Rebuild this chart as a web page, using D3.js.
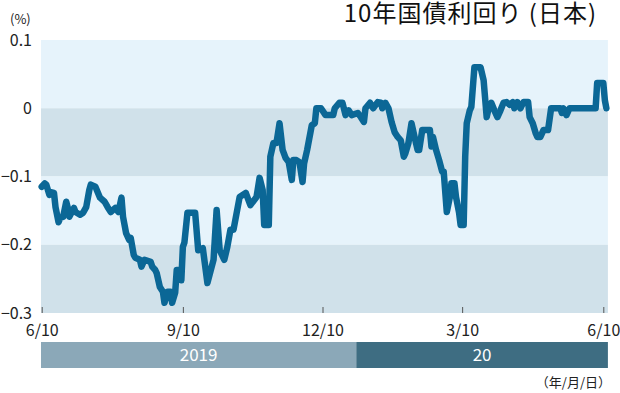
<!DOCTYPE html>
<html>
<head>
<meta charset="utf-8">
<script src="https://cdn.jsdelivr.net/npm/d3@7"></script>
<style>
  body { margin: 0; background: #fff; }
  svg { display: block; font-family: "Noto Sans CJK JP", "Noto Sans", sans-serif; }
</style>
</head>
<body>
<div id="chart"></div>
<script>
// 10-year JGB yield, 2019/6/10 - 2020/6/10

const dates = [
  "2019-06-10","2019-06-12","2019-06-13","2019-06-15","2019-06-16","2019-06-18","2019-06-19","2019-06-21",
  "2019-06-22","2019-06-24","2019-06-26","2019-06-27","2019-06-28","2019-07-01","2019-07-02","2019-07-05",
  "2019-07-07","2019-07-09","2019-07-11","2019-07-12","2019-07-15","2019-07-18","2019-07-21","2019-07-23",
  "2019-07-25","2019-07-28","2019-07-30","2019-08-01","2019-08-02","2019-08-04","2019-08-06","2019-08-07",
  "2019-08-09","2019-08-10","2019-08-13","2019-08-14","2019-08-16","2019-08-20","2019-08-21","2019-08-23",
  "2019-08-24","2019-08-26","2019-08-28","2019-08-29","2019-08-31","2019-09-02","2019-09-03","2019-09-05",
  "2019-09-06","2019-09-08","2019-09-09","2019-09-10","2019-09-11","2019-09-13","2019-09-18","2019-09-20",
  "2019-09-23","2019-09-26","2019-09-30","2019-10-02","2019-10-04","2019-10-07","2019-10-09","2019-10-11",
  "2019-10-13","2019-10-17","2019-10-21","2019-10-24","2019-10-28","2019-10-30","2019-11-01","2019-11-02",
  "2019-11-05","2019-11-06","2019-11-08","2019-11-10","2019-11-12","2019-11-14","2019-11-16","2019-11-18",
  "2019-11-20","2019-11-21","2019-11-23","2019-11-25","2019-11-27","2019-11-28","2019-11-30","2019-12-03",
  "2019-12-05","2019-12-06","2019-12-09","2019-12-12","2019-12-13","2019-12-17","2019-12-18","2019-12-21",
  "2019-12-23","2019-12-25","2019-12-27","2019-12-29","2020-01-02","2020-01-04","2020-01-06","2020-01-07",
  "2020-01-10","2020-01-12","2020-01-15","2020-01-17","2020-01-18","2020-01-20","2020-01-22","2020-01-24",
  "2020-01-26","2020-01-28","2020-01-30","2020-02-01","2020-02-02","2020-02-04","2020-02-06","2020-02-08",
  "2020-02-10","2020-02-11","2020-02-13","2020-02-18","2020-02-19","2020-02-20","2020-02-22","2020-02-24",
  "2020-02-26","2020-02-27","2020-02-29","2020-03-02","2020-03-03","2020-03-05","2020-03-06","2020-03-08",
  "2020-03-09","2020-03-11","2020-03-12","2020-03-13","2020-03-15","2020-03-16","2020-03-18","2020-03-22",
  "2020-03-24","2020-03-26","2020-03-27","2020-03-29","2020-03-31","2020-04-02","2020-04-04","2020-04-06",
  "2020-04-08","2020-04-10","2020-04-12","2020-04-13","2020-04-15","2020-04-17","2020-04-19","2020-04-22",
  "2020-04-23","2020-04-25","2020-04-27","2020-04-28","2020-04-30","2020-05-02","2020-05-05","2020-05-07",
  "2020-05-13","2020-05-14","2020-05-15","2020-05-17","2020-05-19","2020-06-05","2020-06-06","2020-06-10",
  "2020-06-11","2020-06-12"
];

const yields = [
  -0.115,-0.110,-0.112,-0.127,-0.123,-0.124,-0.145,-0.167,
  -0.161,-0.159,-0.137,-0.146,-0.159,-0.146,-0.152,-0.156,
  -0.153,-0.145,-0.120,-0.112,-0.115,-0.131,-0.137,-0.145,
  -0.152,-0.146,-0.152,-0.131,-0.159,-0.183,-0.193,-0.190,
  -0.215,-0.219,-0.222,-0.232,-0.222,-0.225,-0.232,-0.237,
  -0.242,-0.262,-0.269,-0.285,-0.269,-0.269,-0.285,-0.270,
  -0.237,-0.237,-0.252,-0.203,-0.197,-0.153,-0.153,-0.208,
  -0.205,-0.256,-0.222,-0.149,-0.208,-0.222,-0.203,-0.178,
  -0.178,-0.130,-0.124,-0.142,-0.130,-0.102,-0.120,-0.171,
  -0.171,-0.071,-0.051,-0.051,-0.022,-0.061,-0.073,-0.079,
  -0.105,-0.076,-0.076,-0.079,-0.108,-0.081,-0.061,-0.025,
  -0.022,0.000,0.000,-0.010,-0.010,-0.010,0.000,0.008,
  0.008,-0.010,-0.003,-0.010,-0.007,-0.013,-0.020,0.000,
  0.008,0.000,0.009,0.008,0.000,0.008,0.000,-0.020,
  -0.035,-0.042,-0.047,-0.071,-0.066,-0.051,-0.022,-0.042,
  -0.061,-0.061,-0.032,-0.032,-0.056,-0.042,-0.061,-0.076,
  -0.093,-0.093,-0.152,-0.130,-0.110,-0.110,-0.130,-0.153,
  -0.171,-0.171,-0.071,-0.022,-0.003,0.002,0.060,0.060,
  0.041,-0.013,-0.003,0.008,-0.003,-0.013,-0.003,0.008,
  0.009,0.005,0.009,0.000,0.009,0.000,0.009,0.009,
  -0.013,-0.022,-0.037,-0.042,-0.042,-0.032,-0.032,0.000,
  0.000,-0.007,0.000,-0.010,0.000,0.000,0.037,0.037,
  0.012,0.000
];

const yTicks = [0.1, 0, -0.1, -0.2, -0.3];
const xTicks = ["2019-06-10", "2019-09-10", "2019-12-10", "2020-03-10", "2020-06-10"];
const xTickLabels = ["6/10", "9/10", "12/10", "3/10", "6/10"];
const years = [
  { label: "2019", from: "2019-06-10", to: "2020-01-01" },
  { label: "20", from: "2020-01-01", to: "2020-06-13" }
];

const parse = d3.timeParse("%Y-%m-%d");
const data = dates.map((d, i) => ({ date: parse(d), value: yields[i] }));

const width = 620, height = 393;
const svg = d3.select("#chart").append("svg")
  .attr("width", width)
  .attr("height", height);

// Scales
const x = d3.scaleTime()
  .domain([parse("2019-06-10"), parse("2020-06-10")])
  .range([41.7, 603.3]);
const y = d3.scaleLinear().domain([-0.3, 0.1]).range([313, 40]);

const plotLeft = 41, plotRight = x(parse("2020-06-13"));

// Background bands
const bands = d3.pairs(yTicks);
svg.append("g").selectAll("rect")
  .data(bands)
  .join("rect")
  .attr("x", plotLeft)
  .attr("width", plotRight - plotLeft)
  .attr("y", d => y(d[0]))
  .attr("height", d => y(d[1]) - y(d[0]))
  .attr("fill", (d, i) => i % 2 === 0 ? "#e6f3fb" : "#d0e1ea");

// Y axis labels
svg.append("g").selectAll("text")
  .data(yTicks)
  .join("text")
  .attr("x", 32)
  .attr("y", d => y(d))
  .attr("dy", "0.35em")
  .attr("text-anchor", "end")
  .attr("font-size", "16px")
  .attr("fill", "#222")
  .text(d => d === 0 ? "0" : d3.format(".1f")(d).replace("-", "\u2212"));

svg.append("text")
  .attr("x", 10)
  .attr("y", 24)
  .attr("font-size", "13px")
  .attr("fill", "#222")
  .text("(%)");

// X axis
const xAxis = d3.axisBottom(x)
  .tickValues(xTicks.map(parse))
  .tickFormat((d, i) => xTickLabels[i])
  .tickSize(-6)
  .tickPadding(12);

const gx = svg.append("g")
  .attr("transform", "translate(0," + y(-0.3) + ")")
  .call(xAxis);
gx.select(".domain").remove();
gx.selectAll(".tick line").attr("stroke", "#555").attr("stroke-width", 1);
gx.selectAll(".tick text")
  .attr("font-size", "16px")
  .attr("font-family", "'Noto Sans CJK JP', sans-serif")
  .attr("fill", "#222");

// Line
const line = d3.line()
  .x(d => x(d.date))
  .y(d => y(d.value));

svg.append("path")
  .datum(data)
  .attr("fill", "none")
  .attr("stroke", "#0b6796")
  .attr("stroke-width", 6.5)
  .attr("stroke-linejoin", "round")
  .attr("stroke-linecap", "round")
  .attr("d", line);

// Year bar
const yearG = svg.append("g").selectAll("g")
  .data(years)
  .join("g");

yearG.append("rect")
  .attr("x", (d, i) => i === 0 ? plotLeft : x(parse(d.from)))
  .attr("width", (d, i) => x(parse(d.to)) - (i === 0 ? plotLeft : x(parse(d.from))))
  .attr("y", 342)
  .attr("height", 26)
  .attr("fill", (d, i) => i === 0 ? "#8ba8b8" : "#3e6d82");

yearG.append("text")
  .attr("x", (d, i) => ((i === 0 ? plotLeft : x(parse(d.from))) + x(parse(d.to))) / 2)
  .attr("y", 355)
  .attr("dy", "0.35em")
  .attr("text-anchor", "middle")
  .attr("font-size", "17px")
  .attr("fill", "#fff")
  .text(d => d.label);

// Title and unit note
svg.append("text")
  .attr("x", 597)
  .attr("y", 22)
  .attr("text-anchor", "end")
  .attr("font-size", "24px")
  .attr("letter-spacing", "1px")
  .attr("fill", "#111")
  .text("10年国債利回り (日本)");

svg.append("text")
  .attr("x", 611)
  .attr("y", 387)
  .attr("text-anchor", "end")
  .attr("font-size", "13px")
  .attr("fill", "#222")
  .text("（年/月/日）");
</script>
</body>
</html>
